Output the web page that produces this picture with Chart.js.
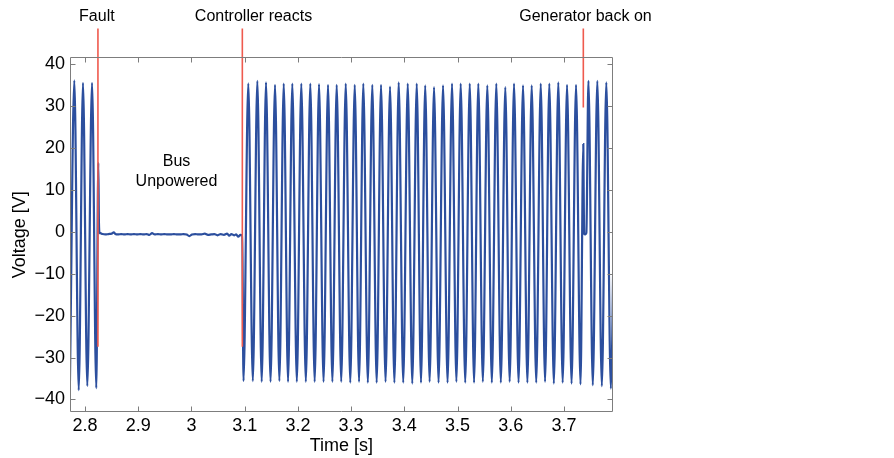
<!DOCTYPE html>
<html><head><meta charset="utf-8">
<script src="https://cdn.jsdelivr.net/npm/chart.js@4.4.1/dist/chart.umd.min.js"></script>
<style>html,body{margin:0;padding:0;background:#fff;}</style>
</head><body>
<canvas id="c" width="894" height="458"></canvas>
<script>
// ---- axis ticks ----
const xTickValues = [2.8, 2.9, 3.0, 3.1, 3.2, 3.3, 3.4, 3.5, 3.6, 3.7];
const yTickValues = [-40, -30, -20, -10, 0, 10, 20, 30, 40];

// ---- voltage trace ----
// before the fault
const preFaultT = [2.7716, 2.7799, 2.7882, 2.7962, 2.8043, 2.8132, 2.8212, 2.8250, 2.8262, 2.8275];
const preFaultV = [-36.4, 36.2, -37.8, 35.6, -36.8, 35.6, -37.3, 16.5, 2.0, -0.2];
// bus unpowered
const busOffT = [2.8290, 2.8330, 2.8380, 2.8440, 2.8500, 2.8540, 2.8570, 2.8620, 2.8680, 2.8740,
  2.8800, 2.8860, 2.8920, 2.8980, 2.9040, 2.9100, 2.9160, 2.9210, 2.9260, 2.9310,
  2.9370, 2.9430, 2.9490, 2.9550, 2.9610, 2.9670, 2.9730, 2.9790, 2.9850, 2.9910,
  2.9960, 3.0010, 3.0070, 3.0130, 3.0190, 3.0250, 3.0310, 3.0370, 3.0430, 3.0490,
  3.0550, 3.0610, 3.0670, 3.0710, 3.0750, 3.0800, 3.0840, 3.0880, 3.0920, 3.0955];
const busOffV = [-0.3, -0.5, -0.6, -0.5, -0.4, -0.1, -0.5, -0.6, -0.5, -0.6,
  -0.5, -0.6, -0.5, -0.6, -0.5, -0.6, -0.5, -0.7, -0.3, -0.6,
  -0.5, -0.6, -0.5, -0.6, -0.6, -0.5, -0.6, -0.6, -0.5, -0.6,
  -1.0, -0.6, -0.5, -0.6, -0.6, -0.4, -0.7, -0.6, -0.5, -0.8,
  -0.5, -0.7, -0.4, -0.9, -0.5, -0.8, -0.6, -1.1, -0.7, -0.8];
// controller-driven oscillation: peaks and troughs
const peakT = [3.1068, 3.1238, 3.1401, 3.1570, 3.1734, 3.1895, 3.2064, 3.2233, 3.2397, 3.2566,
  3.2729, 3.2899, 3.3068, 3.3229, 3.3398, 3.3562, 3.3731, 3.3894, 3.4064, 3.4233,
  3.4392, 3.4558, 3.4727, 3.4896, 3.5059, 3.5229, 3.5390, 3.5559, 3.5728, 3.5897,
  3.6061, 3.6230, 3.6393, 3.6563, 3.6724, 3.6893, 3.7057, 3.7226];
const peakV = [35.5, 36.1, 35.7, 35.1, 35.4, 35.4, 35.4, 35.4, 35.3, 35.1,
  35.1, 35.4, 35.1, 35.4, 35.1, 35.1, 34.7, 35.7, 35.4, 35.4,
  35.0, 34.6, 35.0, 35.4, 35.4, 35.4, 35.4, 35.0, 35.4, 34.6,
  35.4, 35.0, 35.0, 35.4, 35.4, 35.7, 35.1, 35.1];
const troughT = [3.0978, 3.1153, 3.1320, 3.1486, 3.1652, 3.1815, 3.1980, 3.2149, 3.2315, 3.2482,
  3.2648, 3.2814, 3.2984, 3.3149, 3.3314, 3.3480, 3.3647, 3.3813, 3.3979, 3.4149,
  3.4313, 3.4475, 3.4643, 3.4812, 3.4978, 3.5144, 3.5310, 3.5475, 3.5644, 3.5813,
  3.5979, 3.6146, 3.6312, 3.6478, 3.6644, 3.6809, 3.6975, 3.7142, 3.7310];
const troughV = [-35.6, -35.6, -35.8, -35.8, -35.6, -35.8, -35.8, -35.8, -35.8, -35.8,
  -35.8, -35.8, -36.0, -35.8, -36.0, -36.0, -35.8, -36.0, -36.0, -36.2,
  -36.0, -35.8, -36.0, -36.0, -35.8, -36.0, -36.0, -35.8, -36.0, -36.0,
  -35.8, -36.0, -36.0, -36.0, -35.8, -36.2, -36.0, -36.2, -36.4];
// generator back on
const genT = [3.7363, 3.7376, 3.7392, 3.7408, 3.7420, 3.7459, 3.7541, 3.7626, 3.7711, 3.7795, 3.7880, 3.7965];
const genV = [21.0, -0.3, -0.6, -0.5, -0.2, 36.1, -36.6, 36.1, -36.8, 35.7, -37.4, 35.5];

// ---- events ----
const eventNames = ['Fault', 'Controller reacts', 'Generator back on'];
const eventTimes = [2.8243, 3.0956, 3.7363];
const eventLineEndV = [-27.4, -27.4, 29.7];

// ---- text annotation ----
const busText = ['Bus', 'Unpowered'];

// ================= build =================
function pairs(t, v) { return t.map((tt, i) => ({ x: tt, y: v[i] })); }
const voltagePoints = [].concat(
  pairs(preFaultT, preFaultV), pairs(busOffT, busOffV),
  pairs(peakT, peakV), pairs(troughT, troughV), pairs(genT, genV)
).sort((a, b) => a.x - b.x);

const FONT = '"Liberation Sans", Arial, Helvetica, sans-serif';
const RED = '#ef5a4e';
const BLUE = '#2c4f9e';
const LINE_TOP_V = 48.6;           // top end of event markers (above the axes)
const LABEL_V = 50.3;              // baseline of event labels
const labelOffsetT = [-0.0020, 0.0210, 0.0040];
const busAnchorT = 2.9719, busLineV = [16.8, 12.1];

const eventDatasets = eventTimes.map((t, i) => ({
  label: eventNames[i],
  data: [{ x: t, y: LINE_TOP_V }, { x: t, y: eventLineEndV[i] }],
  borderColor: RED, borderWidth: 1.6, pointRadius: 0, clip: false, order: 0,
  cubicInterpolationMode: 'default', tension: 0
}));

const framePlugin = {
  id: 'frame',
  afterDraw(chart) {
    const { ctx, chartArea: a, scales: { x, y } } = chart;
    ctx.save();
    ctx.strokeStyle = '#7d7d7d';
    ctx.lineWidth = 1;
    ctx.beginPath();
    const L = Math.round(a.left) + 0.5, R = Math.round(a.right) - 0.5,
          T = Math.round(a.top) + 0.5, B = Math.round(a.bottom) - 0.5;
    ctx.moveTo(L, T); ctx.lineTo(R, T); ctx.lineTo(R, B); ctx.lineTo(L, B); ctx.closePath();
    const tl = 5;
    x.ticks.forEach(tk => {
      const px = Math.round(x.getPixelForValue(tk.value)) + 0.5;
      ctx.moveTo(px, B); ctx.lineTo(px, B - tl);
      ctx.moveTo(px, T); ctx.lineTo(px, T + tl);
    });
    y.ticks.forEach(tk => {
      const py = Math.round(y.getPixelForValue(tk.value)) + 0.5;
      ctx.moveTo(L, py); ctx.lineTo(L + tl, py);
      ctx.moveTo(R, py); ctx.lineTo(R - tl, py);
    });
    ctx.stroke();

    ctx.fillStyle = '#000';
    ctx.font = '16px ' + FONT;
    ctx.textAlign = 'center';
    ctx.textBaseline = 'alphabetic';
    eventNames.forEach((n, i) => {
      ctx.fillText(n, x.getPixelForValue(eventTimes[i] + labelOffsetT[i]), y.getPixelForValue(LABEL_V));
    });
    ctx.textBaseline = 'middle';
    busText.forEach((s, i) => {
      ctx.fillText(s, x.getPixelForValue(busAnchorT), y.getPixelForValue(busLineV[i]));
    });
    ctx.restore();
  }
};

new Chart(document.getElementById('c'), {
  type: 'line',
  data: {
    datasets: eventDatasets.concat([{
      label: 'Voltage',
      data: voltagePoints,
      borderColor: BLUE, borderWidth: 2.2, pointRadius: 0,
      cubicInterpolationMode: 'monotone', order: 1
    }])
  },
  options: {
    responsive: false, animation: false, devicePixelRatio: 1,
    layout: { padding: { left: 0, top: 57.3, right: 281.3, bottom: 0 } },
    plugins: { legend: { display: false }, tooltip: { enabled: false } },
    scales: {
      x: {
        type: 'linear', min: 2.7718, max: 3.7915,
        afterBuildTicks: s => { s.ticks = xTickValues.map(v => ({ value: v })); },
        afterFit: s => { s.height = 45.7; },
        grid: { display: false, drawTicks: false }, border: { display: false },
        ticks: {
          autoSkip: false, maxRotation: 0, padding: 3, color: '#000',
          font: { size: 18, family: FONT },
          callback: v => String(Number(Number(v).toFixed(1)))
        },
        title: { display: true, text: 'Time [s]', color: '#000', font: { size: 18, family: FONT }, padding: { top: 0, bottom: 1 } }
      },
      y: {
        type: 'linear', min: -43.06, max: 41.7,
        afterBuildTicks: s => { s.ticks = yTickValues.map(v => ({ value: v })); },
        afterFit: s => { s.width = 70; },
        grid: { display: false, drawTicks: false }, border: { display: false },
        ticks: {
          autoSkip: false, padding: 5, color: '#000',
          font: { size: 18, family: FONT },
          callback: v => String(v).replace('-', '\u2212')
        },
        title: { display: true, text: 'Voltage [V]', color: '#000', font: { size: 18, family: FONT }, padding: { top: 9, bottom: 0 } }
      }
    }
  },
  plugins: [framePlugin]
});
</script>
</body></html>
